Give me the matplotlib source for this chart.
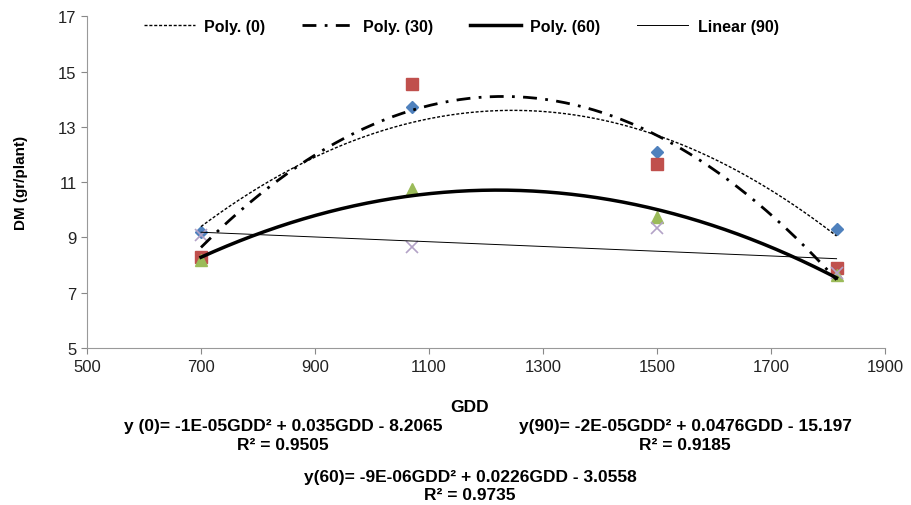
import matplotlib
matplotlib.use('Agg')
import matplotlib.pyplot as plt
import numpy as np

plt.rcParams['font.family'] = ['Liberation Sans', 'DejaVu Sans']

# GDD at each sampling date
gdd = [700, 1070, 1500, 1815]

# dry matter per plant for each treatment
dm_0 = [9.2, 13.7, 12.1, 9.3]
dm_30 = [8.3, 14.55, 11.65, 7.9]
dm_60 = [8.2, 10.75, 9.75, 7.65]
dm_90 = [9.1, 8.65, 9.35, 7.7]

xticks = [500, 700, 900, 1100, 1300, 1500, 1700, 1900]
yticks = [5, 7, 9, 11, 13, 15, 17]

eq_0 = 'y (0)= -1E-05GDD² + 0.035GDD - 8.2065'
r2_0 = 'R² = 0.9505'
eq_90 = 'y(90)= -2E-05GDD² + 0.0476GDD - 15.197'
r2_90 = 'R² = 0.9185'
eq_60 = 'y(60)= -9E-06GDD² + 0.0226GDD - 3.0558'
r2_60 = 'R² = 0.9735'

fig = plt.figure(figsize=(9.12, 5.06), dpi=100)
ax = fig.add_axes([0.0954, 0.310, 0.875, 0.656])

x = np.array(gdd, dtype=float)
xs = np.linspace(x.min(), x.max(), 200)

# scatter points
ax.plot(gdd, dm_0, 'D', color='#4F81BD', ms=6.5, zorder=3)
ax.plot(gdd, dm_30, 's', color='#C0504D', ms=8, zorder=3)
ax.plot(gdd, dm_60, '^', color='#9BBB59', ms=8.5, zorder=3)
ax.plot(gdd, dm_90, 'x', color='#B3A2C7', ms=8, mew=1.2, zorder=3)

# trend lines
p0 = np.polyfit(x, dm_0, 2)
p30 = np.polyfit(x, dm_30, 2)
p60 = np.polyfit(x, dm_60, 2)
p90 = np.polyfit(x, dm_90, 1)
ax.plot(xs, np.polyval(p0, xs), color='black', lw=1.0, ls=(0, (2.2, 1.3)),
        label='Poly. (0)', zorder=4)
ax.plot(xs, np.polyval(p30, xs), color='black', lw=2.0, ls=(0, (5, 3, 1, 3)),
        label='Poly. (30)', zorder=4)
ax.plot(xs, np.polyval(p60, xs), color='black', lw=2.5, label='Poly. (60)', zorder=4)
ax.plot(xs, np.polyval(p90, xs), color='black', lw=0.7, label='Linear (90)', zorder=4)

ax.set_xlim(500, 1900)
ax.set_ylim(5, 17)
ax.set_xticks(xticks)
ax.set_yticks(yticks)
ax.tick_params(labelsize=12, colors='#888888', labelcolor='#222222', length=4, width=0.8)
for s in ['top', 'right']:
    ax.spines[s].set_visible(False)
for s in ['left', 'bottom']:
    ax.spines[s].set_color('#999999')
    ax.spines[s].set_linewidth(0.8)

ax.set_ylabel('DM (gr/plant)', fontsize=11, fontweight='bold', labelpad=22)

leg = ax.legend(loc='upper center', bbox_to_anchor=(0.469, 1.035), ncol=4, frameon=False,
                prop={'size': 11.5, 'weight': 'bold'}, handlelength=3.2, columnspacing=2.3,
                handletextpad=0.6)

txt = dict(ha='center', va='center', fontsize=12.5, fontweight='bold')
fig.text(470 / 912, 1 - 408 / 506, 'GDD', **txt)
fig.text(283 / 912, 1 - 427 / 506, eq_0, **txt)
fig.text(283 / 912, 1 - 446 / 506, r2_0, **txt)
fig.text(685 / 912, 1 - 427 / 506, eq_90, **txt)
fig.text(685 / 912, 1 - 446 / 506, r2_90, **txt)
fig.text(470 / 912, 1 - 478 / 506, eq_60, **txt)
fig.text(470 / 912, 1 - 496 / 506, r2_60, **txt)

fig.savefig('out.png', dpi=100)
